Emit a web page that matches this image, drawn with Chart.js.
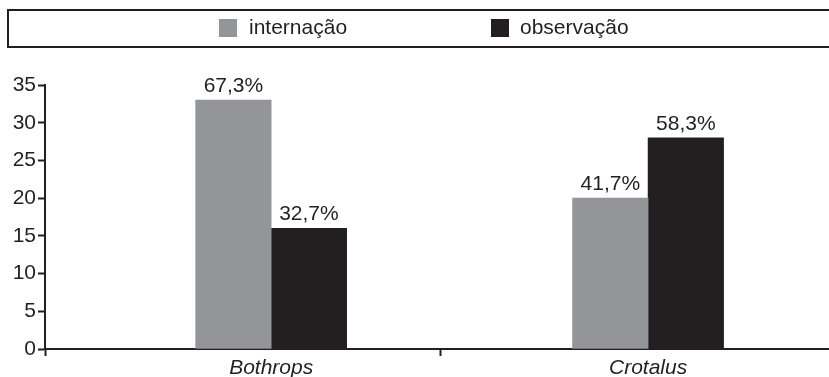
<!DOCTYPE html>
<html>
<head>
<meta charset="utf-8">
<script src="https://cdn.jsdelivr.net/npm/chart.js@4/dist/chart.umd.min.js"></script>
<style>
  html, body { margin: 0; padding: 0; background: #fff; }
  #wrap { width: 829px; height: 377px; position: relative; }
</style>
</head>
<body>
<div id="wrap"><canvas id="chart"></canvas></div>
<script>
const categories = ["Bothrops", "Crotalus"];
const seriesNames = ["internação", "observação"];
const internacao = [33, 20];
const observacao = [16, 28];
const internacaoLabels = ["67,3%", "41,7%"];
const observacaoLabels = ["32,7%", "58,3%"];
const yTicks = [0, 5, 10, 15, 20, 25, 30, 35];

const INK = "#231f20";
const GREY = "#939598";
const FONT = "'Liberation Sans', Arial, sans-serif";

// posição das categorias no eixo x (linear): 1, 2 ...; marcas em 0.4 (origem) e 1.45 (divisão)
const catPos = categories.map((c, i) => i + 1);
const xTicks = [0.4, catPos[0], 1.45, catPos[1]];

function points(values) {
  return values.map((v, i) => ({ x: catPos[i], y: v }));
}

const legendBox = {
  id: "legendBox",
  afterDraw(chart) {
    const ctx = chart.ctx;
    ctx.save();
    ctx.strokeStyle = INK;
    ctx.lineWidth = 2;
    ctx.strokeRect(8, 10, 840, 37);
    const items = [
      { box: 219, text: 249 },
      { box: 491, text: 520 },
    ];
    ctx.font = "21px " + FONT;
    ctx.textBaseline = "middle";
    chart.data.datasets.forEach((ds, i) => {
      ctx.fillStyle = ds.backgroundColor;
      ctx.fillRect(items[i].box, 19, 18, 18);
      ctx.fillStyle = INK;
      ctx.fillText(ds.label, items[i].text, 28.5);
    });
    ctx.restore();
  },
};

const barLabels = {
  id: "barLabels",
  afterDatasetsDraw(chart) {
    const ctx = chart.ctx;
    ctx.save();
    ctx.font = "21px " + FONT;
    ctx.fillStyle = INK;
    ctx.textAlign = "center";
    ctx.textBaseline = "alphabetic";
    chart.data.datasets.forEach((ds, i) => {
      chart.getDatasetMeta(i).data.forEach((bar, j) => {
        ctx.fillText(ds.pctLabels[j], bar.x, bar.y - 8);
      });
    });
    ctx.restore();
  },
};

new Chart(document.getElementById("chart"), {
  type: "bar",
  data: {
    datasets: [
      {
        label: seriesNames[0],
        data: points(internacao),
        pctLabels: internacaoLabels,
        backgroundColor: GREY,
      },
      {
        label: seriesNames[1],
        data: points(observacao),
        pctLabels: observacaoLabels,
        backgroundColor: INK,
      },
    ],
  },
  options: {
    responsive: true,
    maintainAspectRatio: false,
    animation: false,
    layout: { padding: { top: 85, left: 0, right: 0, bottom: 0 } },
    barThickness: 75.5,
    plugins: { legend: { display: false }, tooltip: { enabled: false } },
    scales: {
      x: {
        type: "linear",
        min: 0.4,
        max: 2.48,
        offset: false,
        afterFit: (s) => { s.height = 28; },
        afterBuildTicks: (s) => { s.ticks = xTicks.map((v) => ({ value: v })); },
        border: { color: INK, width: 2 },
        grid: {
          offset: false,
          drawOnChartArea: false,
          tickLength: 7,
          tickWidth: 2,
          tickColor: (c) => (c.tick && catPos.includes(c.tick.value) ? "rgba(0,0,0,0)" : INK),
        },
        ticks: {
          autoSkip: false,
          maxRotation: 0,
          padding: 0,
          color: INK,
          font: { family: FONT, size: 21, style: "italic" },
          callback: (v) => {
            const i = catPos.indexOf(v);
            return i >= 0 ? categories[i] : "";
          },
        },
      },
      y: {
        min: 0,
        max: 35,
        afterFit: (s) => { s.width = 45; },
        afterBuildTicks: (s) => { s.ticks = yTicks.map((v) => ({ value: v })); },
        border: { color: INK, width: 2 },
        grid: { drawOnChartArea: false, tickLength: 7, tickWidth: 2, tickColor: INK },
        ticks: { padding: 2, color: INK, font: { family: FONT, size: 21 } },
      },
    },
  },
  plugins: [legendBox, barLabels],
});
</script>
</body>
</html>
